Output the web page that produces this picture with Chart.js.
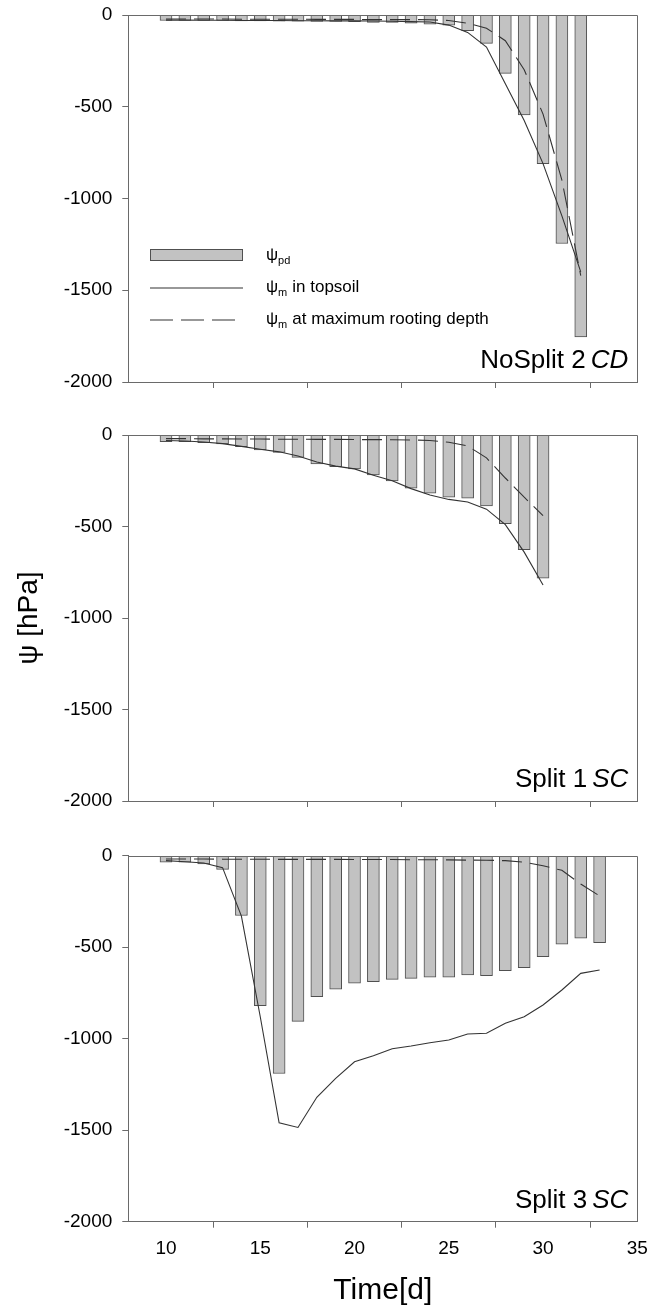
<!DOCTYPE html>
<html><head><meta charset="utf-8">
<script src="https://cdn.jsdelivr.net/npm/chart.js@4.4.1/dist/chart.umd.min.js"></script>
<style>
html,body{margin:0;padding:0;background:#fff;width:650px;height:1311px;overflow:hidden}
.p{position:absolute;left:0;width:650px}
</style></head><body>
<div class="p" style="top:0;height:420px"><canvas id="c1"></canvas></div>
<div class="p" style="top:420px;height:420px"><canvas id="c2"></canvas></div>
<div class="p" style="top:840px;height:471px"><canvas id="c3"></canvas></div>
<script>
// ---------- data ----------
const xTicks = [10, 15, 20, 25, 30, 35];
const yTicks = [0, -500, -1000, -1500, -2000];

// Panel 1: NoSplit 2 CD
const days1 = [10,11,12,13,14,15,16,17,18,19,20,21,22,23,24,25,26,27,28,29,30,31,32];
const psiPd1 = [-30,-30,-30,-30,-32,-32,-33,-33,-35,-35,-36,-40,-40,-45,-50,-55,-85,-155,-318,-545,-810,-1245,-1755];
const psiTop1 = [-28,-28,-29,-29,-30,-30,-30,-31,-31,-32,-32,-33,-34,-36,-38,-55,-95,-175,-375,-575,-810,-1095,-1400];
const psiDeep1 = [-22,-22,-22,-22,-23,-23,-23,-23,-24,-24,-24,-25,-25,-25,-26,-30,-45,-72,-140,-298,-540,-900,-1420];

// Panel 2: Split 1 SC
const days2 = [10,11,12,13,14,15,16,17,18,19,20,21,22,23,24,25,26,27,28,29,30];
const psiPd2 = [-36,-36,-42,-49,-64,-82,-95,-122,-158,-173,-185,-218,-251,-291,-318,-340,-345,-387,-485,-627,-782];
const psiTop2 = [-30,-33,-38,-47,-62,-78,-92,-115,-148,-170,-185,-220,-250,-293,-328,-352,-366,-405,-490,-640,-820];
const psiDeep2 = [-20,-20,-21,-21,-22,-22,-23,-23,-24,-24,-25,-25,-26,-27,-30,-40,-60,-125,-235,-340,-440];

// Panel 3: Split 3 SC
const days3 = [10,11,12,13,14,15,16,17,18,19,20,21,22,23,24,25,26,27,28,29,30,31,32,33];
const psiPd3 = [-35,-36,-45,-75,-327,-820,-1190,-905,-770,-730,-697,-688,-676,-670,-664,-664,-652,-655,-628,-612,-552,-484,-451,-475];
const psiTop3 = [-27,-33,-40,-65,-330,-880,-1460,-1485,-1320,-1217,-1126,-1093,-1055,-1040,-1022,-1007,-974,-970,-916,-880,-816,-734,-643,-625];
const psiDeep3 = [-18,-18,-18,-19,-19,-19,-20,-20,-20,-20,-21,-21,-21,-22,-22,-23,-24,-25,-27,-35,-55,-80,-155,-220];

// ---------- styling ----------
const FONT = "'Liberation Sans', Arial, Helvetica, sans-serif";
Chart.defaults.font.family = FONT;
Chart.defaults.color = '#000';

const BAR_FILL = '#c2c2c2';
const BAR_EDGE = '#505050';
const LINE_COL = '#333333';
const AXIS_COL = '#6a6a6a';

function pts(days, vals) { return days.map((d, i) => ({ x: d, y: vals[i] })); }

const framePlugin = {
  id: 'frame',
  afterDraw(chart, args, opts) {
    const { ctx, chartArea: a } = chart;
    ctx.save();
    ctx.strokeStyle = AXIS_COL;
    ctx.lineWidth = 1;
    ctx.beginPath();
    ctx.moveTo(a.left, Math.round(a.top) + 0.5);
    ctx.lineTo(Math.round(a.right) + 0.5, Math.round(a.top) + 0.5);
    ctx.lineTo(Math.round(a.right) + 0.5, a.bottom);
    ctx.stroke();
    // panel label
    if (opts.label) {
      const rightX = a.right - 9;
      const baseY = a.bottom - 14;
      ctx.fillStyle = '#000';
      ctx.textBaseline = 'alphabetic';
      ctx.textAlign = 'right';
      ctx.font = 'italic 26px ' + FONT;
      ctx.fillText(opts.italic, rightX, baseY);
      const wI = ctx.measureText(opts.italic).width;
      ctx.font = '26px ' + FONT;
      ctx.fillText(opts.label, rightX - wI - 5, baseY);
    }
    // legend
    if (opts.legend) {
      const lx = 150, tx = 266;
      ctx.fillStyle = BAR_FILL;
      ctx.fillRect(lx, 249, 93, 12);
      ctx.strokeStyle = BAR_EDGE;
      ctx.strokeRect(lx + 0.5, 249.5, 92, 11);
      ctx.strokeStyle = LINE_COL;
      ctx.lineWidth = 1.1;
      ctx.beginPath(); ctx.moveTo(lx, 288); ctx.lineTo(lx + 93, 288); ctx.stroke();
      ctx.setLineDash([23, 8]);
      ctx.beginPath(); ctx.moveTo(lx, 320); ctx.lineTo(lx + 85, 320); ctx.stroke();
      ctx.setLineDash([]);
      const rows = [['pd', '', 260], ['m', 'in topsoil', 292], ['m', 'at maximum rooting depth', 324]];
      ctx.fillStyle = '#000';
      ctx.textAlign = 'left';
      rows.forEach(([sub, rest, y]) => {
        ctx.font = '17px ' + FONT;
        ctx.fillText('ψ', tx, y);
        let x = tx + ctx.measureText('ψ').width;
        ctx.font = '11px ' + FONT;
        ctx.fillText(sub, x, y + 4);
        x += ctx.measureText(sub).width + 5;
        ctx.font = '17px ' + FONT;
        if (rest) ctx.fillText(rest, x, y);
      });
    }
    ctx.restore();
  }
};

function makeChart(id, days, pd, top, deep, o) {
  const cfg = {
    type: 'bar',
    data: {
      datasets: [
        { type: 'line', data: pts(days, top), borderColor: LINE_COL, borderWidth: 1.1,
          pointRadius: 0, fill: false, tension: 0, order: 0 },
        { type: 'line', data: pts(days, deep), borderColor: LINE_COL, borderWidth: 1.1,
          borderDash: [20, 8], pointRadius: 0, fill: false, tension: 0, order: 0 },
        { type: 'bar', data: pts(days, pd), backgroundColor: BAR_FILL, borderColor: BAR_EDGE,
          borderWidth: 1, barThickness: 12, order: 1 }
      ]
    },
    options: {
      responsive: true,
      maintainAspectRatio: false,
      animation: false,
      events: [],
      layout: { padding: { top: o.padTop, right: 12.7, left: 0, bottom: 0 } },
      plugins: {
        legend: { display: false },
        tooltip: { enabled: false },
        frame: { label: o.label, italic: o.italic, legend: o.legend }
      },
      scales: {
        x: {
          type: 'linear', min: 8, max: 35, offset: false,
          afterBuildTicks: s => { s.ticks = xTicks.map(v => ({ value: v })); },
          afterFit: s => { s.height = o.xHeight; s.paddingLeft = 0; s.paddingRight = 0; },
          grid: { display: true, drawOnChartArea: false, drawTicks: true, tickLength: 6, tickColor: AXIS_COL, tickWidth: 1 },
          border: { display: true, color: AXIS_COL, width: 1 },
          ticks: { padding: 10, font: { size: 19 }, color: '#000', maxRotation: 0,
                   callback: v => o.xLabels ? String(v) : '' },
          title: o.xTitle ? { display: true, text: 'Time[d]', font: { size: 30 }, color: '#000',
                              padding: { top: 0, bottom: 2 } } : { display: false }
        },
        y: {
          type: 'linear', min: -2000, max: 0,
          afterBuildTicks: s => { s.ticks = yTicks.map(v => ({ value: v })); },
          afterFit: s => { s.width = 128.3; s.paddingTop = 0; s.paddingBottom = 0; },
          grid: { display: true, drawOnChartArea: false, drawTicks: true, tickLength: 6, tickColor: AXIS_COL, tickWidth: 1 },
          border: { display: true, color: AXIS_COL, width: 1 },
          ticks: { padding: 10, font: { size: 19 }, color: '#000', callback: v => String(v) },
          title: o.yTitle ? { display: true, text: 'ψ [hPa]', font: { size: 28 }, color: '#000',
                              padding: { top: 12, bottom: 0 } } : { display: false }
        }
      }
    },
    plugins: [framePlugin]
  };
  return new Chart(document.getElementById(id), cfg);
}

makeChart('c1', days1, psiPd1, psiTop1, psiDeep1,
  { padTop: 15, xHeight: 38, label: 'NoSplit 2', italic: 'CD', legend: true, xLabels: false });
makeChart('c2', days2, psiPd2, psiTop2, psiDeep2,
  { padTop: 15, xHeight: 39, label: 'Split 1', italic: 'SC', legend: false, xLabels: false, yTitle: true });
makeChart('c3', days3, psiPd3, psiTop3, psiDeep3,
  { padTop: 15.7, xHeight: 89.3, label: 'Split 3', italic: 'SC', legend: false, xLabels: true, xTitle: true });
</script>
</body></html>
